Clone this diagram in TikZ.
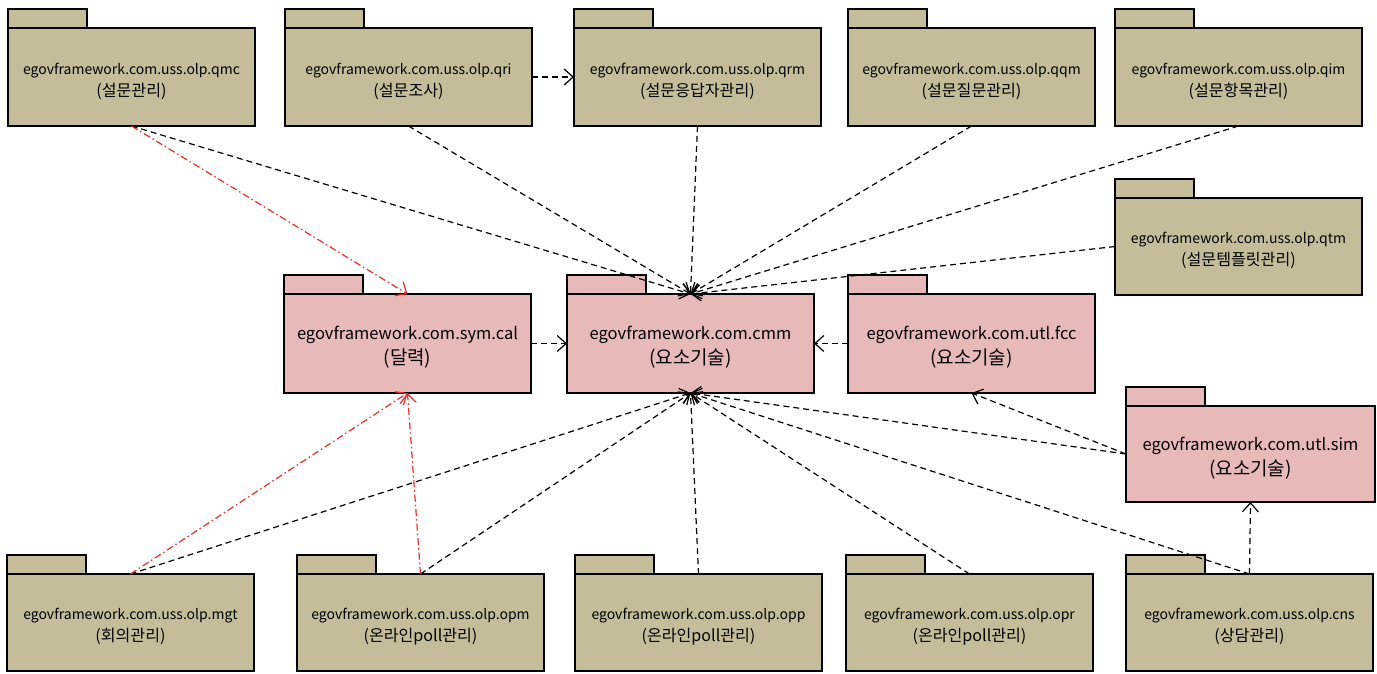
\documentclass[tikz,border=0pt]{standalone}
\usepackage{fontspec}
\setmainfont{Noto Sans CJK KR}
\usepackage{xcolor}
\usepackage{tikz}
\usetikzlibrary{arrows.meta}

\definecolor{pkgkhaki}{RGB}{197,189,154}
\definecolor{pkgpink}{RGB}{232,185,185}
\definecolor{depred}{RGB}{232,45,45}
\newcommand{\kor}{\addfontfeatures{Scale=1.15}}

\begin{document}
\begin{tikzpicture}[x=1pt, y=-1pt, >={Straight Barb[length=9pt,width=16pt,line width=1.2pt]},
    pkg/.style={draw, line width=1.2pt, anchor=north west, align=center, outer sep=0pt, inner sep=2pt, minimum width=247pt, minimum height=98pt},
    uss/.style={pkg, fill=pkgkhaki, font=\fontsize{14}{22}\selectfont, text height=42pt},
    cmp/.style={pkg, fill=pkgpink, font=\fontsize{16.5}{25}\selectfont, text height=46pt, minimum height=99pt},
    dep/.style={->, line width=1.2pt, dash pattern=on 6pt off 4pt},
    reddep/.style={->, depred, line width=1.2pt, dash pattern=on 7pt off 3pt on 1.5pt off 3pt}]
    \useasboundingbox (0,0) rectangle (1377,673);

    % Top row: survey packages
    \node (qmc) [uss] at (8,28) {egovframework.com.uss.olp.qmc\\{\kor(설문관리)}};
    \node (qri) [uss] at (285,28) {egovframework.com.uss.olp.qri\\{\kor(설문조사)}};
    \node (qrm) [uss] at (574,28) {egovframework.com.uss.olp.qrm\\{\kor(설문응답자관리)}};
    \node (qqm) [uss] at (848,28) {egovframework.com.uss.olp.qqm\\{\kor(설문질문관리)}};
    \node (qim) [uss] at (1115,28) {egovframework.com.uss.olp.qim\\{\kor(설문항목관리)}};
    \node (qtm) [uss, minimum height=97pt] at (1115,198) {egovframework.com.uss.olp.qtm\\{\kor(설문템플릿관리)}};

    % Middle row: common components
    \node (symcal) [cmp] at (284,294) {egovframework.com.sym.cal\\{\kor(달력)}};
    \node (cmm) [cmp] at (567,294) {egovframework.com.cmm\\{\kor(요소기술)}};
    \node (fcc) [cmp] at (848,294) {egovframework.com.utl.fcc\\{\kor(요소기술)}};
    \node (sim) [cmp, minimum width=249pt, minimum height=96pt] at (1126,406) {egovframework.com.utl.sim\\{\kor(요소기술)}};

    % Bottom row: meeting, poll and counsel packages
    \node (mgt) [uss, minimum height=97pt] at (7,574) {egovframework.com.uss.olp.mgt\\{\kor(회의관리)}};
    \node (opm) [uss, minimum height=97pt] at (297,574) {egovframework.com.uss.olp.opm\\{\kor(온라인poll관리)}};
    \node (opp) [uss, minimum height=97pt] at (575,574) {egovframework.com.uss.olp.opp\\{\kor(온라인poll관리)}};
    \node (opr) [uss, minimum height=97pt] at (846,574) {egovframework.com.uss.olp.opr\\{\kor(온라인poll관리)}};
    \node (cns) [uss, minimum height=97pt] at (1126,574) {egovframework.com.uss.olp.cns\\{\kor(상담관리)}};

    % Package tabs
    \foreach \p in {qmc,qri,qrm,qqm,qim,qtm,mgt,opm,opp,opr,cns}
        \draw[line width=1.2pt, fill=pkgkhaki] (\p.north west) rectangle ++(79,-19);
    \foreach \p in {symcal,cmm,fcc,sim}
        \draw[line width=1.2pt, fill=pkgpink] (\p.north west) rectangle ++(79,-19);

    % Dependencies
    \draw[dep] (qri.east) -- (qrm.west); % survey uses answerers
    \draw[dep] (qmc.south) -- (cmm.north);
    \draw[dep] (qri.south) -- (cmm.north);
    \draw[dep] (qrm.south) -- (cmm.north);
    \draw[dep] (qqm.south) -- (cmm.north);
    \draw[dep] (qim.south) -- (cmm.north);
    \draw[dep] (qtm.west) -- (cmm.north);
    \draw[dep] (symcal.east) -- (cmm.west);
    \draw[dep] (fcc.west) -- (cmm.east);
    \draw[dep] (sim.west) -- (fcc.south);
    \draw[dep] (sim.west) -- (cmm.south);
    \draw[dep] (mgt.north) -- (cmm.south);
    \draw[dep] (opm.north) -- (cmm.south);
    \draw[dep] (opp.north) -- (cmm.south);
    \draw[dep] (opr.north) -- (cmm.south);
    \draw[dep] (cns.north) -- (cmm.south);
    \draw[dep] (cns.north) -- (sim.south);

    % Calendar usage
    \draw[reddep] (qmc.south) -- (symcal.north);
    \draw[reddep] (mgt.north) -- (symcal.south);
    \draw[reddep] (opm.north) -- (symcal.south);
\end{tikzpicture}
\end{document}
